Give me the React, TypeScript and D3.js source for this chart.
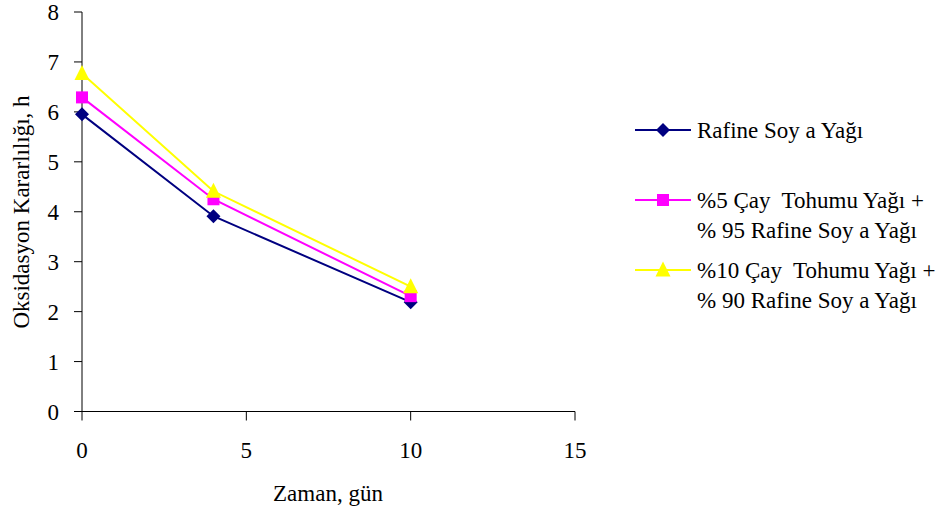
import React from "react";
import * as d3 from "d3";

const days = [0, 4, 10];
const rafine = [5.95, 3.91, 2.19];
const cay5 = [6.29, 4.25, 2.31];
const cay10 = [6.77, 4.41, 2.5];
const xTicks = [0, 5, 10, 15];
const yTicks = [0, 1, 2, 3, 4, 5, 6, 7, 8];

const seriesNames = [
  ["Rafine Soy a Yağı"],
  ["%5 Çay\u00A0 Tohumu Yağı +", "% 95 Rafine Soy a Yağı"],
  ["%10 Çay\u00A0 Tohumu Yağı +", "% 90 Rafine Soy a Yağı"],
];
const colors = ["#000080", "#FF00FF", "#FFFF00"];
const shapes = ["diamond", "square", "triangle"];

const font = "'Liberation Serif', 'Times New Roman', serif";
const fs = 23;

function Marker({ shape, x, y, color }: { shape: string; x: number; y: number; color: string }) {
  if (shape === "diamond") {
    const s = 7;
    return <path d={`M${x},${y - s}L${x + s},${y}L${x},${y + s}L${x - s},${y}Z`} fill={color} />;
  }
  if (shape === "square") {
    const s = 6;
    return <rect x={x - s} y={y - s} width={2 * s} height={2 * s} fill={color} />;
  }
  const s = 7.5;
  return <path d={`M${x},${y - s - 1}L${x + s},${y + s - 1}L${x - s},${y + s - 1}Z`} fill={color} />;
}

export default function App() {
  const x = d3.scaleLinear().domain([0, 15]).range([82, 575]);
  const y = d3.scaleLinear().domain([0, 8]).range([411.5, 12]);
  const data = [rafine, cay5, cay10];
  const line = d3
    .line<[number, number]>()
    .x((d) => x(d[0]))
    .y((d) => y(d[1]));
  const legendY = [130, 200, 270];

  return (
    <svg
      width={950}
      height={511}
      xmlSpace="preserve"
      style={{ position: "absolute", left: 0, top: 0, background: "#fff", fontFamily: font, whiteSpace: "pre" }}
    >
      {/* axes */}
      <line x1={x(0)} x2={x(0)} y1={y(8)} y2={y(0)} stroke="#000" strokeWidth={1} />
      <line x1={x(0)} x2={x(15)} y1={y(0)} y2={y(0)} stroke="#000" strokeWidth={1} />
      {yTicks.map((t) => (
        <g key={"y" + t}>
          <line x1={x(0) - 8} x2={x(0)} y1={y(t)} y2={y(t)} stroke="#000" />
          <text x={59} y={y(t) + 8} textAnchor="end" fontSize={fs}>
            {t}
          </text>
        </g>
      ))}
      {xTicks.map((t) => (
        <g key={"x" + t}>
          <line x1={x(t)} x2={x(t)} y1={y(0)} y2={y(0) + 9} stroke="#000" />
          <text x={x(t)} y={458} textAnchor="middle" fontSize={fs}>
            {t}
          </text>
        </g>
      ))}
      <text x={328} y={501} textAnchor="middle" fontSize={fs}>
        Zaman, gün
      </text>
      <text transform={`translate(29,212) rotate(-90)`} textAnchor="middle" fontSize={fs}>
        Oksidasyon Kararlılığı, h
      </text>
      {/* series */}
      {data.map((vals, i) => {
        const pts = days.map((d, j) => [d, vals[j]] as [number, number]);
        return (
          <g key={"s" + i}>
            <path d={line(pts) || ""} fill="none" stroke={colors[i]} strokeWidth={2} />
            {pts.map((p, j) => (
              <Marker key={j} shape={shapes[i]} x={x(p[0])} y={y(p[1])} color={colors[i]} />
            ))}
          </g>
        );
      })}
      {/* legend */}
      {seriesNames.map((lines, i) => (
        <g key={"l" + i}>
          <line x1={635} x2={691} y1={legendY[i]} y2={legendY[i]} stroke={colors[i]} strokeWidth={2} />
          <Marker shape={shapes[i]} x={663} y={legendY[i]} color={colors[i]} />
          {lines.map((s, k) => (
            <text key={k} x={697} y={legendY[i] + 8 + k * 30} fontSize={fs}>
              {s}
            </text>
          ))}
        </g>
      ))}
    </svg>
  );
}
